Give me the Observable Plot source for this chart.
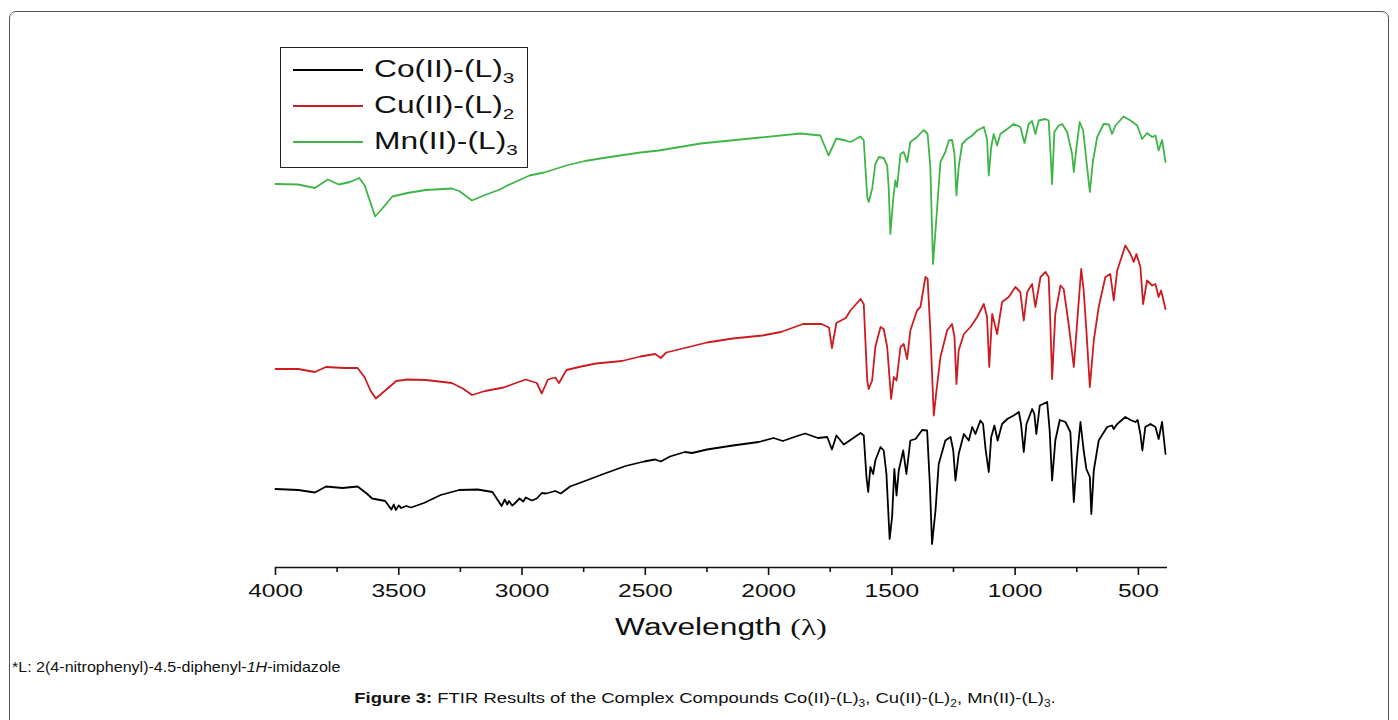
<!DOCTYPE html>
<html>
<head>
<meta charset="utf-8">
<script src="https://cdn.jsdelivr.net/npm/d3@7"></script>
<script src="https://cdn.jsdelivr.net/npm/@observablehq/plot@0.6"></script>
<style>
  html, body { margin: 0; padding: 0; background: #fff; width: 1398px; height: 720px; overflow: hidden; }
  body { position: relative; font-family: "Liberation Sans", Arial, sans-serif; color: #111; }
  #frame { position: absolute; left: 9px; top: 11px; width: 1378px; height: 800px; border: 1.5px solid #555; border-radius: 7px; }
  #chart { position: absolute; left: 0; top: 0; }
  #legend { position: absolute; left: 280px; top: 47px; width: 246px; height: 119px; border: 1.6px solid #222; background: #fff; }
  .lrow { position: absolute; left: 0; width: 100%; height: 0; }
  .lline { position: absolute; left: 12px; width: 70px; height: 0; border-top: 2px solid; top: -1px; }
  .ltext { position: absolute; left: 93px; top: -12px; font-size: 23px; line-height: 23px; white-space: nowrap; transform: scaleX(1.38); transform-origin: 0 50%; }
  .ltext sub { font-size: 15px; vertical-align: -6px; line-height: 0; }
  #xlabel { position: absolute; left: 721px; top: 616px; font-size: 23px; line-height: 23px; white-space: nowrap; transform: translateX(-50%) scaleX(1.38); }
  #xlabel span { font-family: "Liberation Serif", "Times New Roman", serif; }
  #note { position: absolute; left: 12px; top: 659px; font-size: 15px; line-height: 15px; white-space: nowrap; transform: scaleX(1.07); transform-origin: 0 50%; }
  #caption { position: absolute; left: 705px; top: 690px; font-size: 15.5px; line-height: 15px; white-space: nowrap; transform: translateX(-50%) scaleX(1.19); }
  #caption sub, #note sub { font-size: 10px; line-height: 0; }
</style>
</head>
<body>
<div id="frame"></div>
<div id="chart"></div>
<div id="legend"></div>
<div id="xlabel">Wavelength <span>(λ)</span></div>
<div id="note">*L: 2(4-nitrophenyl)-4.5-diphenyl-<i>1H</i>-imidazole</div>
<div id="caption"><b>Figure 3:</b> FTIR Results of the Complex Compounds Co(II)-(L)<sub>3</sub>, Cu(II)-(L)<sub>2</sub>, Mn(II)-(L)<sub>3</sub>.</div>
<script>
// Series names (legend) and colours
const seriesNames = ["Co(II)-(L)3", "Cu(II)-(L)2", "Mn(II)-(L)3"];
const seriesLabelsHtml = ["Co(II)-(L)<sub>3</sub>", "Cu(II)-(L)<sub>2</sub>", "Mn(II)-(L)<sub>3</sub>"];
const seriesColors = ["#000000", "#cc1c22", "#3fb547"];

// x tick values (wavenumber, as labelled "Wavelength")
const majorTicks = [4000, 3500, 3000, 2500, 2000, 1500, 1000, 500];
const minorTicks = [3750, 3250, 2750, 2250, 1750, 1250, 750];

// Spectra: [wavenumber, transmittance (offset, a.u.)]
const coSpectrum = [
  [4000,15.7],[3908,15.5],[3840,15.0],[3795,16.2],[3728,15.9],[3667,16.2],[3630,14.8],[3608,13.8],[3555,13.3],
  [3530,11.6],[3520,12.6],[3512,11.5],[3500,12.4],[3490,11.9],[3470,12.3],[3450,12.0],[3398,12.9],[3330,14.5],
  [3255,15.5],[3180,15.6],[3120,15.1],[3083,12.3],[3070,13.6],[3060,12.6],[3053,13.3],[3040,12.4],[3030,12.8],
  [3010,13.8],[2995,13.2],[2985,14.0],[2960,13.4],[2940,13.8],[2920,14.9],[2903,14.8],[2865,15.3],[2843,14.8],
  [2805,16.2],[2745,17.3],[2670,18.7],[2580,20.3],[2505,21.2],[2460,21.6],[2437,21.2],[2400,22.2],[2340,23.1],
  [2310,22.9],[2250,23.6],[2145,24.4],[2040,25.1],[1980,25.9],[1942,25.3],[1890,26.2],[1852,26.8],[1800,25.9],
  [1762,26.1],[1743,23.6],[1725,26.4],[1695,24.6],[1668,25.5],[1627,26.9],[1614,26.4],[1603,18.1],[1596,15.1],
  [1587,20.1],[1576,18.7],[1567,21.4],[1546,24.1],[1533,23.4],[1522,18.7],[1509,5.7],[1499,10.1],[1490,19.7],
  [1481,14.4],[1472,19.4],[1454,23.4],[1441,18.7],[1425,25.4],[1404,25.7],[1377,27.5],[1357,27.4],[1346,16.7],
  [1337,4.7],[1323,11.4],[1310,20.7],[1283,25.4],[1262,26.1],[1251,23.4],[1242,17.4],[1229,22.7],[1208,26.7],
  [1188,25.4],[1174,28.1],[1161,26.7],[1141,29.4],[1130,28.7],[1120,23.7],[1107,19.1],[1097,26.1],[1084,28.4],
  [1071,25.4],[1053,28.7],[1032,29.7],[1006,30.4],[985,31.1],[976,28.7],[965,23.1],[954,28.7],[931,31.7],
  [922,30.7],[914,26.7],[900,32.4],[870,33.1],[860,27.4],[850,17.4],[837,25.4],[819,29.5],[796,29.1],[776,27.1],
  [762,13.1],[749,22.1],[735,29.1],[722,23.4],[711,19.7],[697,18.1],[691,10.7],[681,19.4],[661,25.4],[627,28.1],
  [607,28.4],[600,27.7],[586,28.7],[553,30.1],[532,29.5],[512,29.1],[503,29.5],[492,26.7],[484,23.4],[472,28.1],
  [451,28.7],[431,28.1],[418,25.7],[404,29.1],[390,22.7]
];
const cuSpectrum = [
  [4000,39.7],[3908,39.7],[3840,39.1],[3795,40.1],[3720,39.9],[3667,39.9],[3638,38.0],[3615,35.4],[3593,33.8],
  [3555,35.4],[3510,37.3],[3465,37.6],[3390,37.5],[3285,36.9],[3240,35.8],[3203,34.5],[3150,35.3],[3075,36.0],
  [2985,37.6],[2940,36.9],[2920,34.8],[2895,37.6],[2865,38.0],[2850,36.9],[2820,39.5],[2760,40.2],[2700,40.8],
  [2595,41.3],[2520,42.2],[2460,42.7],[2437,41.9],[2415,43.0],[2340,43.9],[2250,45.0],[2145,45.8],[2025,46.4],
  [1950,47.1],[1860,48.7],[1785,48.7],[1755,48.0],[1743,43.9],[1725,48.9],[1687,49.9],[1668,51.4],[1627,53.7],
  [1614,52.7],[1600,37.4],[1594,35.7],[1580,37.4],[1567,44.1],[1546,48.1],[1533,47.7],[1519,44.1],[1503,33.7],
  [1492,38.1],[1481,37.4],[1465,44.1],[1452,44.7],[1438,41.7],[1425,47.4],[1398,51.4],[1384,52.1],[1364,58.1],
  [1355,57.7],[1344,47.4],[1330,30.4],[1319,35.4],[1303,42.1],[1276,47.4],[1256,48.7],[1246,46.1],[1238,36.7],
  [1229,43.4],[1208,46.7],[1181,48.1],[1154,50.1],[1127,52.7],[1114,50.1],[1105,40.1],[1093,50.7],[1073,46.7],
  [1053,53.1],[1026,54.1],[999,56.1],[979,55.1],[965,49.4],[951,55.1],[931,56.7],[918,52.1],[897,58.1],[877,59.1],
  [864,58.1],[857,48.7],[850,37.7],[837,50.7],[816,56.4],[803,55.7],[783,48.7],[762,40.1],[749,48.7],[732,59.7],
  [722,55.4],[711,47.4],[697,36.1],[681,45.4],[661,52.1],[634,58.1],[614,58.7],[600,53.4],[586,59.4],[553,64.4],
  [532,62.7],[519,61.1],[508,62.7],[492,60.1],[481,52.7],[465,57.4],[444,56.4],[431,56.7],[418,54.1],[408,55.4],
  [390,51.7]
];
const mnSpectrum = [
  [4000,76.7],[3908,76.6],[3840,75.9],[3788,77.6],[3743,76.6],[3698,77.1],[3660,77.9],[3638,76.4],[3615,73.0],
  [3596,70.2],[3570,71.6],[3526,74.2],[3465,74.9],[3390,75.5],[3285,75.8],[3255,75.3],[3203,73.4],[3150,74.5],
  [3090,75.6],[3060,76.4],[2970,78.4],[2910,79.0],[2820,80.4],[2745,81.3],[2670,81.9],[2520,83.0],[2445,83.4],
  [2276,84.8],[2033,86.0],[1871,86.8],[1790,86.4],[1757,82.4],[1725,85.8],[1688,85.4],[1668,85.1],[1627,86.2],
  [1614,85.4],[1600,74.1],[1594,73.1],[1580,75.7],[1567,80.7],[1553,82.1],[1533,81.9],[1519,80.4],[1513,76.1],
  [1506,66.7],[1495,73.4],[1486,77.4],[1479,76.1],[1465,82.7],[1452,83.1],[1438,81.1],[1425,85.1],[1398,86.1],
  [1371,87.5],[1355,86.7],[1344,80.1],[1333,60.7],[1319,70.1],[1303,81.1],[1283,83.1],[1269,85.4],[1256,85.5],
  [1246,82.7],[1238,74.4],[1229,80.1],[1215,84.7],[1195,85.7],[1174,86.4],[1154,87.4],[1127,88.1],[1114,85.7],
  [1107,78.4],[1097,84.1],[1087,86.7],[1073,84.4],[1060,86.7],[1032,87.7],[1006,88.7],[979,88.1],[962,84.9],
  [945,88.7],[931,89.3],[918,86.7],[904,89.4],[877,89.7],[864,89.4],[857,83.4],[850,76.7],[841,87.1],[823,88.4],
  [809,88.7],[789,87.1],[769,82.7],[762,79.1],[751,84.1],[738,89.1],[724,87.4],[711,81.4],[697,75.1],[684,81.4],
  [667,86.1],[641,88.7],[620,88.6],[607,86.7],[593,88.4],[560,90.2],[532,89.4],[505,88.4],[485,85.7],[465,86.9],
  [444,86.1],[431,86.4],[418,83.4],[404,85.5],[390,81.1]
];

const spectra = [coSpectrum, cuSpectrum, mnSpectrum];
const rows = spectra.flatMap((arr, k) => arr.map(([w, t]) => ({w, t, s: seriesNames[k]})));

const chart = Plot.plot({
  width: 1398,
  height: 600,
  marginLeft: 275,
  marginRight: 231,
  marginTop: 67,
  marginBottom: 33,
  style: {background: "transparent", fontFamily: "'Liberation Sans', Arial, sans-serif", color: "#111"},
  x: {domain: [4000, 382], label: null},
  y: {domain: [0, 100], axis: null},
  color: {domain: seriesNames, range: seriesColors},
  marks: [
    Plot.line(rows, {x: "w", y: "t", z: "s", stroke: "s", strokeWidth: 1.8, strokeLinejoin: "round", curve: "linear"}),
    Plot.ruleY([0], {stroke: "#111", strokeWidth: 1.6}),
    Plot.axisX(minorTicks, {tickSize: 5, tickFormat: () => "", strokeWidth: 1.6, stroke: "#111"}),
    Plot.axisX(majorTicks, {tickSize: 8, tickPadding: 8, fontSize: 18.5, tickFormat: d => String(d), strokeWidth: 1.6, stroke: "#111", fill: "#111", label: null})
  ]
});
document.getElementById("chart").appendChild(chart);

// widen tick labels horizontally to match the stretched source figure
chart.querySelectorAll('[aria-label="x-axis tick label"] text').forEach(t => {
  const tr = t.getAttribute("transform");
  if (tr) {
    t.setAttribute("transform", tr + " scale(1.33,1)");
  } else {
    const x = +(t.getAttribute("x") || 0), y = +(t.getAttribute("y") || 0);
    t.removeAttribute("x"); t.removeAttribute("y");
    t.setAttribute("transform", `translate(${x},${y}) scale(1.33,1)`);
  }
});

// legend built from series arrays
const legend = document.getElementById("legend");
seriesNames.forEach((name, i) => {
  const row = document.createElement("div");
  row.className = "lrow";
  row.style.top = (22 + i * 36) + "px";
  const line = document.createElement("div");
  line.className = "lline";
  line.style.borderTopColor = seriesColors[i];
  const txt = document.createElement("div");
  txt.className = "ltext";
  txt.innerHTML = seriesLabelsHtml[i];
  row.appendChild(line);
  row.appendChild(txt);
  legend.appendChild(row);
});
</script>
</body>
</html>
